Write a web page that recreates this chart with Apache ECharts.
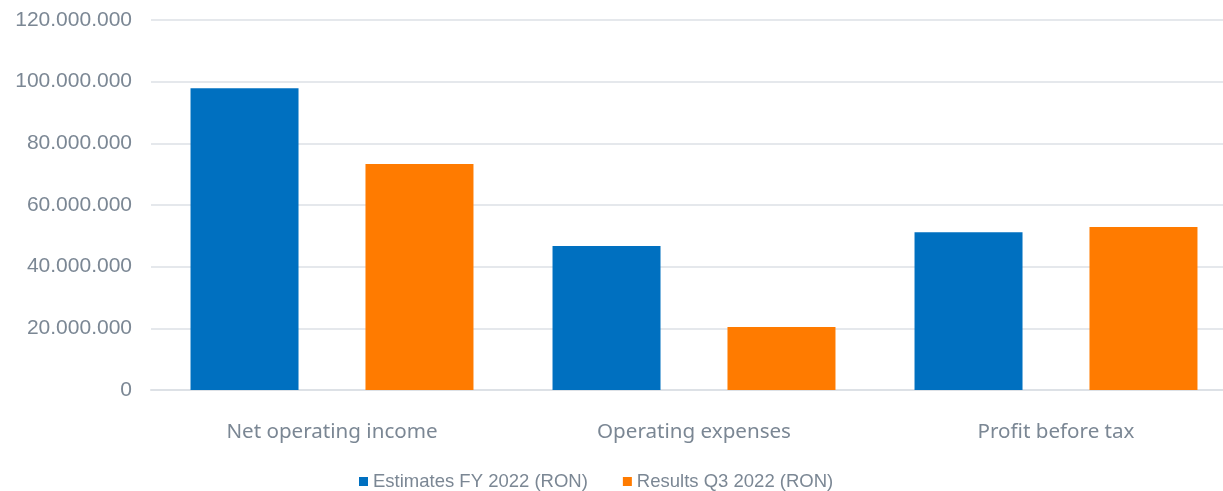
<!DOCTYPE html>
<html><head><meta charset="utf-8">
<script src="https://cdn.jsdelivr.net/npm/echarts@6/dist/echarts.min.js"></script>
<style>html,body{margin:0;padding:0;background:#fff;overflow:hidden;width:1223px;height:491px}#c{width:1237px;height:491px}</style>
</head><body><div id="c"></div>
<script>
const categories = ['Net operating income', 'Operating expenses', 'Profit before tax'];
const seriesNames = ['Estimates FY 2022 (RON)', 'Results Q3 2022 (RON)'];
const estimates = [97900000, 46700000, 51200000];
const results = [73300000, 20400000, 52900000];
const yTicks = {min: 0, max: 120000000, interval: 20000000};

function fmt(v){ return String(Math.round(v)).replace(/\B(?=(\d{3})+(?!\d))/g, '.'); }

const chart = echarts.init(document.getElementById('c'), null, {renderer: 'canvas'});
chart.setOption({
  animation: false,
  grid: {left: 151, top: 20, right: 0, bottom: 101, containLabel: false},
  legend: {
    left: 359, top: 472, padding: 0,
    itemWidth: 9, itemHeight: 9, itemGap: 35,
    icon: 'rect',
    textStyle: {fontFamily: 'Liberation Sans, Arial, sans-serif', fontSize: 18.5, color: '#7b8794'},
    data: seriesNames
  },
  xAxis: {
    type: 'category', data: categories,
    axisLine: {show: true, lineStyle: {color: '#dde1e6', width: 2}},
    axisTick: {show: false},
    axisLabel: {margin: 32, fontFamily: 'Noto Sans, sans-serif', fontSize: 20.6, color: '#7b8794'}
  },
  yAxis: {
    type: 'value', min: yTicks.min, max: yTicks.max, interval: yTicks.interval,
    axisLine: {show: false}, axisTick: {show: false},
    splitLine: {lineStyle: {color: '#dde1e6', width: 1.5}},
    axisLabel: {margin: 19, fontFamily: 'Liberation Sans, Arial, sans-serif', fontSize: 21, color: '#7b8794', formatter: fmt}
  },
  series: [
    {name: seriesNames[0], type: 'bar', data: estimates, barWidth: 108, barGap: '62%', itemStyle: {color: '#0070C0'}},
    {name: seriesNames[1], type: 'bar', data: results, barWidth: 108, barGap: '62%', itemStyle: {color: '#FF7B00'}}
  ]
});
</script></body></html>
